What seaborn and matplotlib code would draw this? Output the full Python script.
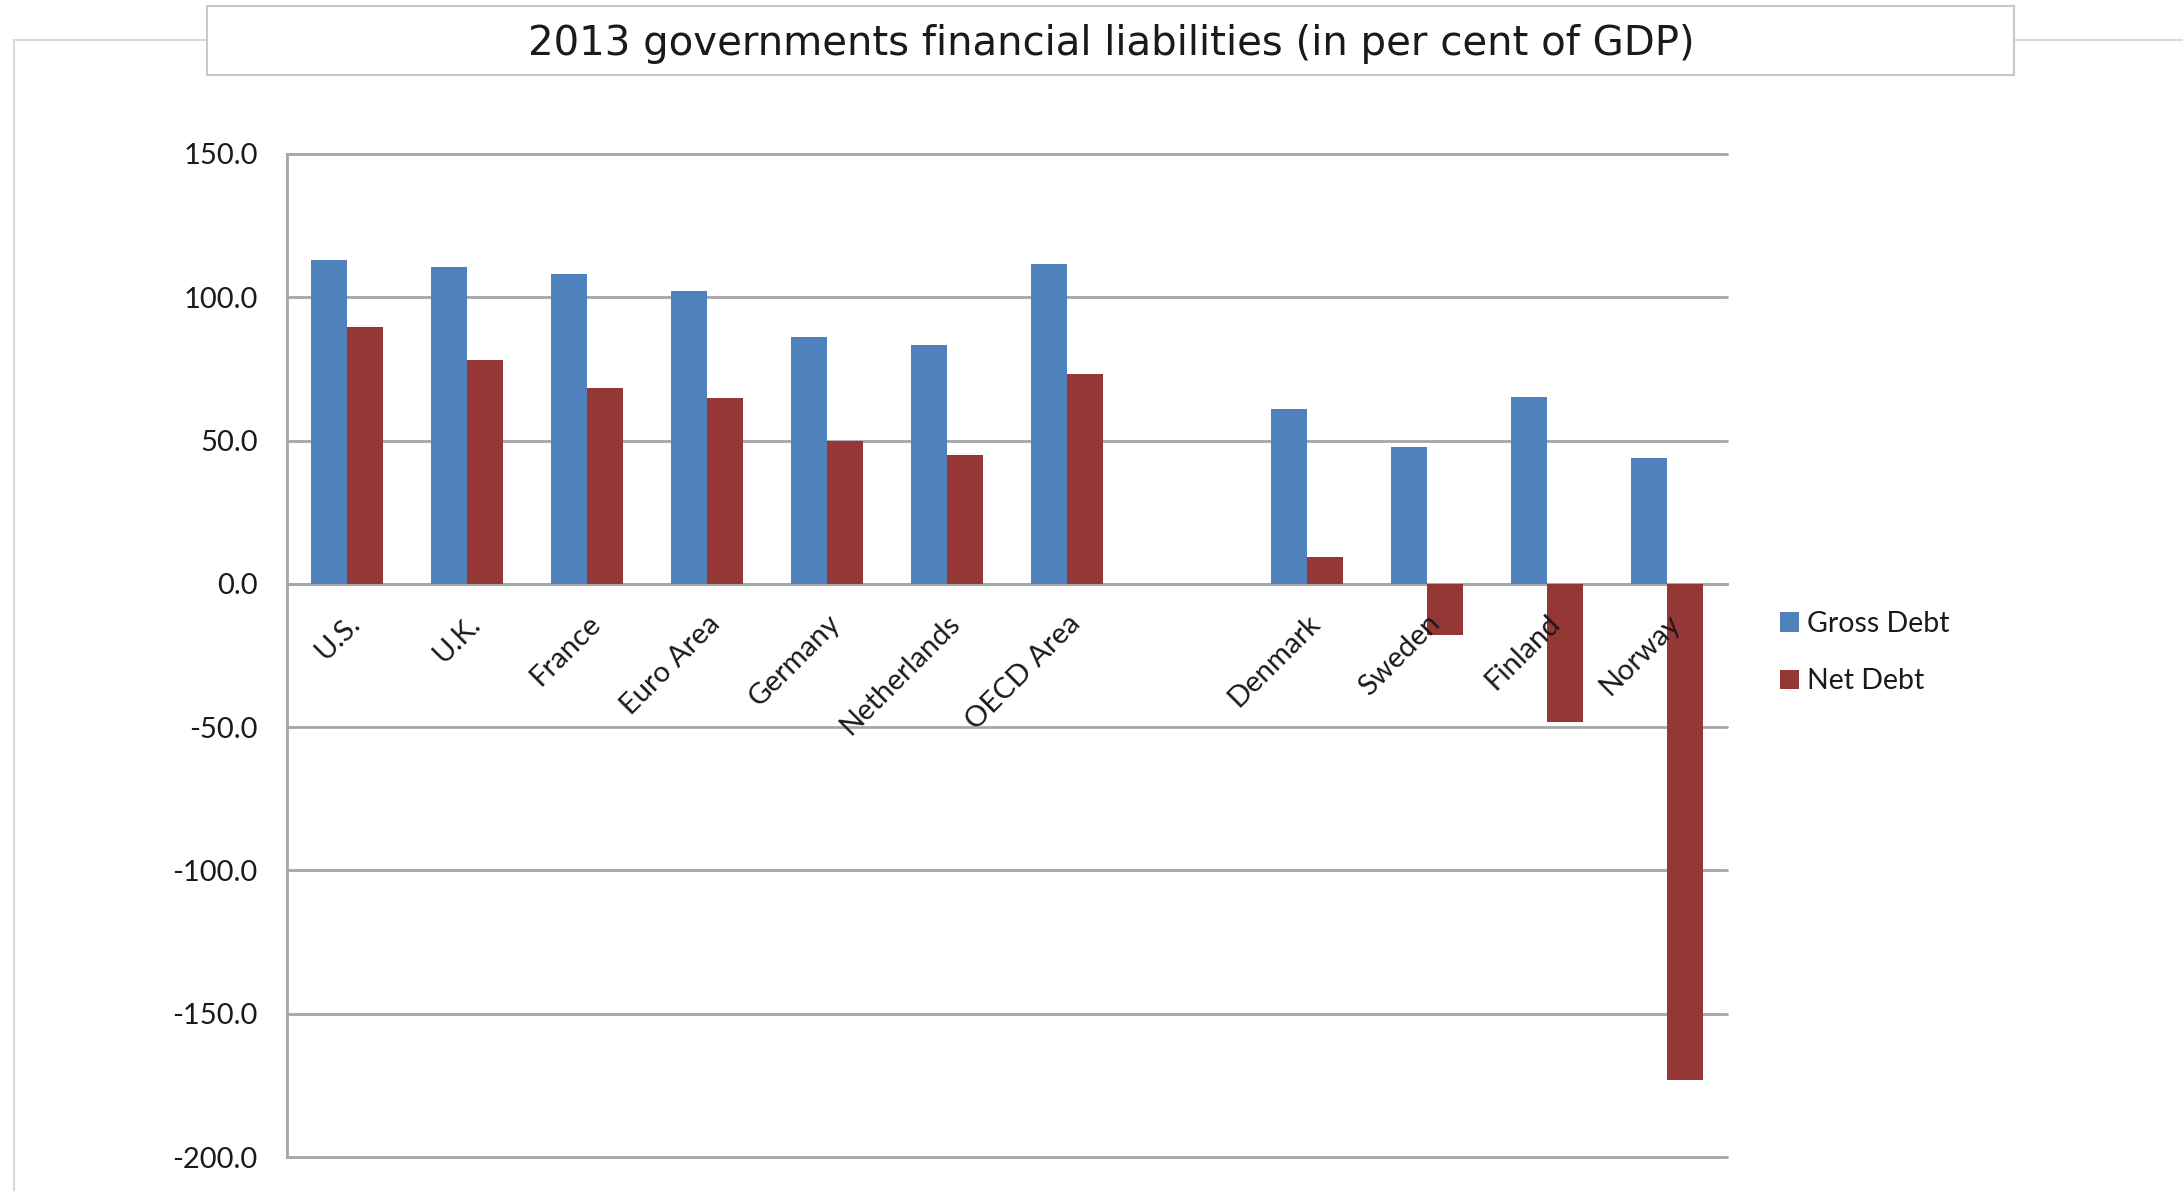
import numpy as np
import pandas as pd
import matplotlib
matplotlib.use("Agg")
import matplotlib.pyplot as plt
import seaborn as sns
from matplotlib.patches import Rectangle
from matplotlib.ticker import FixedLocator

# data
countries = ["U.S.", "U.K.", "France", "Euro Area", "Germany", "Netherlands",
             "OECD Area", "Denmark", "Sweden", "Finland", "Norway"]
gross_debt = [113.0, 110.5, 108.3, 102.2, 86.2, 83.3, 111.5, 61.0, 47.9, 65.3, 44.0]
net_debt = [89.8, 78.2, 68.5, 64.9, 49.8, 44.9, 73.1, 9.5, -18.0, -48.2, -173.0]
# empty slot between OECD Area and Denmark
order = countries[:7] + [""] + countries[7:]
y_ticks = [150, 100, 50, 0, -50, -100, -150, -200]

df = pd.DataFrame({
    "Country": countries * 2,
    "Value": gross_debt + net_debt,
    "Series": ["Gross Debt"] * len(countries) + ["Net Debt"] * len(countries),
})

sns.set_style("white")
plt.rcParams["font.family"] = ["Lato", "DejaVu Sans"]

W, H = 2183, 1191
fig = plt.figure(figsize=(W / 100, H / 100), dpi=100)

# outer chart frame and title box (behind the axes)
fig.patches.append(Rectangle((14 / W, -0.1), 1.2, 1 - 40 / H + 0.1, transform=fig.transFigure,
                             facecolor="white", edgecolor="#D9D9D9", linewidth=1.5, zorder=-2))
fig.patches.append(Rectangle((207 / W, 1 - 75 / H), (2014 - 207) / W, (75 - 6) / H,
                             transform=fig.transFigure, facecolor="white",
                             edgecolor="#C8C8C8", linewidth=1.5, zorder=-1))
fig.text(1111 / W, 1 - 44 / H, "2013 governments financial liabilities (in per cent of GDP)",
         ha="center", va="center", fontsize=29, family="DejaVu Sans", color="#1a1a1a")

ax = fig.add_axes([287 / W, 1 - 1157 / H, (1727 - 287) / W, (1157 - 154) / H])
ax.set_facecolor("none")

sns.barplot(data=df, x="Country", y="Value", hue="Series", order=order,
            hue_order=["Gross Debt", "Net Debt"],
            palette={"Gross Debt": "#4F81BD", "Net Debt": "#953735"},
            width=0.6, saturation=1, linewidth=0, ax=ax)

ax.set_ylim(-200, 150)
ax.set_xlim(-0.5, len(order) - 0.5)
ax.set_yticks(y_ticks)
ax.set_yticklabels([f"{v:.1f}" for v in y_ticks])
# gridlines behind the bars, tick labels above them (as in the Excel chart)
ax.grid(False)
ax.set_axisbelow(False)
for yv in y_ticks:
    ax.axhline(yv, color="#A6A6A6", linewidth=2, zorder=0.5, clip_on=False)

for s in ["top", "right"]:
    ax.spines[s].set_visible(False)
ax.spines["left"].set_color("#A6A6A6")
ax.spines["left"].set_linewidth(2)
ax.spines["left"].set_zorder(0.6)
ax.spines["bottom"].set_position(("data", 0))
ax.spines["bottom"].set_color("#A6A6A6")
ax.spines["bottom"].set_linewidth(2)
ax.spines["bottom"].set_zorder(0.6)

ax.xaxis.set_minor_locator(FixedLocator(np.arange(-0.5, len(order), 1.0)))
ax.tick_params(axis="x", which="major", length=0, pad=19)
ax.tick_params(axis="x", which="minor", length=9, width=2, color="#A6A6A6", direction="out")
ax.tick_params(axis="y", length=9, width=2, color="#A6A6A6", direction="out", pad=12,
               labelsize=21, labelcolor="#1a1a1a")
plt.setp(ax.get_xticklabels(), rotation=45, ha="right", va="top", rotation_mode="anchor",
         fontsize=21, color="#1a1a1a")
ax.set_xlabel("")
ax.set_ylabel("")

handles, labels = ax.get_legend_handles_labels()
ax.legend(handles, labels, loc="upper left", bbox_to_anchor=(1780 / W, 1 - 611 / H),
          bbox_transform=fig.transFigure, frameon=False, fontsize=20.5,
          handlelength=0.65, handleheight=0.65, handletextpad=0.3, labelspacing=1.1,
          borderpad=0, borderaxespad=0, labelcolor="#1a1a1a")

fig.savefig("out.png", dpi=100, facecolor="white")
